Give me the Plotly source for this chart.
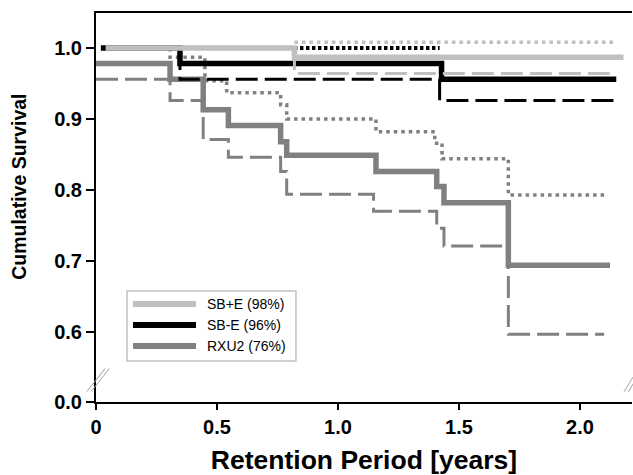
import plotly.graph_objects as go

# ---------------- data ----------------
# SB+E  (light gray)
sbp_t = [0.04, 0.82, 2.18]
sbp_s = [1.0, 0.987, 0.987]
sbp_up_t = [0.82, 2.145]
sbp_up_s = [1.008, 1.008]
sbp_lo_t = [0.82, 0.82, 2.145]
sbp_lo_s = [1.0, 0.964, 0.964]

# SB-E  (black)
sbm_t = [0.02, 0.347, 1.428, 2.15]
sbm_s = [1.0, 0.978, 0.956, 0.956]
sbm_up_t = [0.347, 1.42]
sbm_up_s = [1.0, 1.0]
sbm_lo_t = [0.347, 0.347, 1.42, 2.14]
sbm_lo_s = [1.0, 0.956, 0.926, 0.926]

# RXU2  (medium gray)
rx_t = [0, 0.306, 0.443, 0.547, 0.763, 0.788, 1.157, 1.408, 1.438, 1.704, 2.124]
rx_s = [0.978, 0.956, 0.913, 0.891, 0.868, 0.849, 0.826, 0.805, 0.782, 0.694, 0.694]
rx_up_t = [0.306, 0.306, 0.45, 0.54, 0.763, 0.788, 1.157, 1.40, 1.43, 1.704, 2.10]
rx_up_s = [1.0, 0.987, 0.954, 0.937, 0.92, 0.90, 0.882, 0.866, 0.844, 0.793, 0.793]
rx_lo_t = [0, 0.306, 0.443, 0.547, 0.763, 0.788, 1.147, 1.408, 1.438, 1.704, 2.10]
rx_lo_s = [0.956, 0.926, 0.871, 0.846, 0.826, 0.794, 0.770, 0.746, 0.721, 0.597, 0.597]

series_names = ["SB+E (98%)", "SB-E (96%)", "RXU2 (76%)"]

x_tickvals = [0, 0.5, 1.0, 1.5, 2.0]
x_ticktext = ["0", "0.5", "1.0", "1.5", "2.0"]
y_break_pos = 0.5014  # where the "0.0" label sits on the broken axis
y_tickvals = [y_break_pos, 0.6, 0.7, 0.8, 0.9, 1.0]
y_ticktext = ["0.0", "0.6", "0.7", "0.8", "0.9", "1.0"]

C_LIGHT = "#c0c0c0"
C_BLACK = "#000000"
C_MID = "#808080"
series_colors = [C_LIGHT, C_BLACK, C_MID]

fig = go.Figure()


def add(t, s, color, width, dash, name=""):
    fig.add_trace(go.Scatter(
        x=t, y=s, mode="lines", line_shape="hv",
        line=dict(color=color, width=width, dash=dash),
        name=name, showlegend=False, hoverinfo="skip"))


# RXU2 (bottom layer)
add(rx_lo_t, rx_lo_s, C_MID, 3, "22px,7px", series_names[2] + " lower CI")
add(rx_up_t, rx_up_s, C_MID, 3.5, "3.5px,4px", series_names[2] + " upper CI")
add(rx_t, rx_s, C_MID, 5.5, "solid", series_names[2])
# SB-E
add(sbm_lo_t, sbm_lo_s, C_BLACK, 3, "22px,7px", series_names[1] + " lower CI")
add(sbm_up_t, sbm_up_s, C_BLACK, 4, "3.5px,2.5px", series_names[1] + " upper CI")
add(sbm_t, sbm_s, C_BLACK, 5.5, "solid", series_names[1])
# SB+E (top)
add(sbp_lo_t, sbp_lo_s, C_LIGHT, 3, "22px,7px", series_names[0] + " lower CI")
add(sbp_up_t, sbp_up_s, C_LIGHT, 3.5, "3.5px,4px", series_names[0] + " upper CI")
add(sbp_t, sbp_s, C_LIGHT, 5.5, "solid", series_names[0])

FAM = "Liberation Sans, Arial, sans-serif"
tick_font = dict(family=FAM, size=20, color="black", weight="bold")

fig.update_layout(
    width=633, height=475,
    margin=dict(l=96, r=1, t=13, b=73, autoexpand=False),
    paper_bgcolor="white", plot_bgcolor="white",
    showlegend=False,
    xaxis=dict(
        range=[0, 2.215], tickvals=x_tickvals, ticktext=x_ticktext,
        showgrid=False, zeroline=False, automargin=False,
        showline=True, linecolor="black", linewidth=2, mirror=True,
        ticks="outside", ticklen=6, tickwidth=1.5, tickcolor="black",
        tickfont=tick_font,
        title=dict(text="Retention Period [years]", standoff=16,
                   font=dict(family=FAM, size=26.5, color="black", weight="bold")),
    ),
    yaxis=dict(
        range=[y_break_pos, 1.0493], tickvals=y_tickvals, ticktext=y_ticktext,
        showgrid=False, zeroline=False, automargin=False,
        showline=True, linecolor="black", linewidth=2,
        ticks="outside", ticklen=8, tickwidth=1.5, tickcolor="black",
        tickfont=tick_font,
    ),
)

# y-axis title (placed as in the reference, slightly above the axis centre)
fig.add_annotation(xref="paper", yref="paper", x=-0.1437, y=0.553,
                   xanchor="center", yanchor="middle", showarrow=False,
                   textangle=-90, text="Cumulative Survival",
                   font=dict(family=FAM, size=19.5, color="black", weight="bold"))

# legend box drawn as a framed key
fig.add_shape(type="rect", xref="paper", yref="paper",
              x0=0.0578, x1=0.3731, y0=0.1054, y1=0.2853,
              line=dict(color="#c0c0c0", width=1.5), fillcolor="white", layer="above")
legend_rows = [0.2519, 0.1979, 0.1440]
for name, col, yy in zip(series_names, series_colors, legend_rows):
    fig.add_shape(type="line", xref="paper", yref="paper",
                  x0=0.069, x1=0.1866, y0=yy, y1=yy,
                  line=dict(color=col, width=6), layer="above")
    fig.add_annotation(xref="paper", yref="paper", x=0.2034, y=yy,
                       xanchor="left", yanchor="middle", showarrow=False,
                       text=name, font=dict(family=FAM, size=14, color="black"))

# axis-break marks (double slashes) on left axis and right edge
for dx in (0.0, 0.008):
    fig.add_shape(type="line", xref="paper", yref="paper",
                  x0=-0.017 + dx, y0=0.031 - 0.004, x1=0.017 + dx, y1=0.090 - 0.004,
                  line=dict(color="#a0a0a0", width=1))
    fig.add_shape(type="line", xref="paper", yref="paper",
                  x0=0.985 + dx, y0=0.030 - 0.004, x1=1.002 + dx, y1=0.068 - 0.004,
                  line=dict(color="#a0a0a0", width=1))

fig.write_html("out.html", config={"displayModeBar": False},
               post_script="document.body.style.margin='0px';")
